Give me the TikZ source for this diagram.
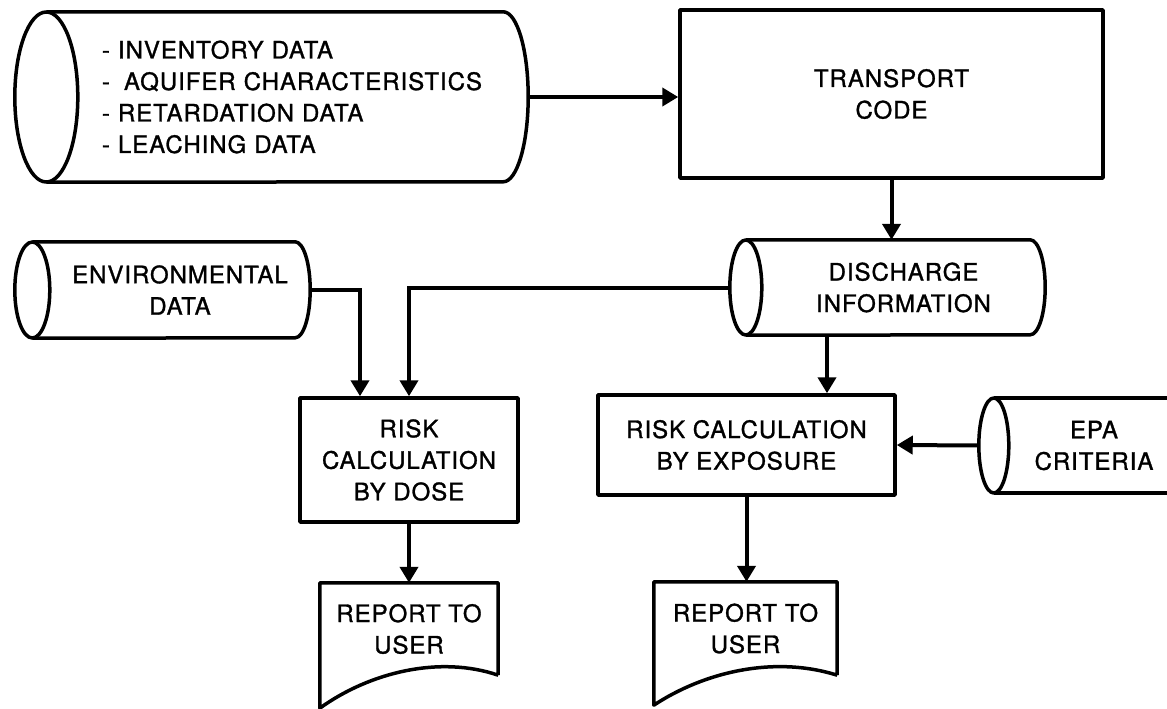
\documentclass[tikz,border=0pt]{standalone}
\usepackage{fontspec}
\setmainfont{TeX Gyre Heros}[LetterSpace=4, FakeBold=1.2]
\usetikzlibrary{arrows.meta,calc}
\tikzset{
  shp/.style={line width=3.5pt, line join=round},
  box/.style={draw, shp, rectangle, inner sep=0pt, align=center},
  body/.style={rectangle, inner sep=0pt, align=center},
  conn/.style={line width=4pt, -{Triangle[width=18pt,length=16pt]}},
}
% #1 node name, #2 left ellipse x radius, #3 right arc x radius, #4 half height
\newcommand{\cylout}[4]{%
  \draw[shp] ([xshift=-#2pt]#1.west) ellipse [x radius=#2pt, y radius=#4pt];
  \draw[shp] ([xshift=-#2pt]#1.north west) -- ([xshift=-#3pt]#1.north east)
    arc[start angle=90, end angle=-90, x radius=#3pt, y radius=#4pt]
    -- ([xshift=-#2pt]#1.south west);
}
\newcommand{\docout}[2]{% #1 node name, #2 drop of the left lower corner
  \draw[shp] (#1.south east) -- (#1.north east) -- (#1.north west)
    -- ($(#1.south west)+(0,#2)$)
    .. controls ($(#1.south west)+(50,-3)$) and ($(#1.south west)+(120,-20)$) .. (#1.south east);
}
\begin{document}
\begin{tikzpicture}[x=1pt, y=-1pt, font=\fontsize{24}{31.5}\selectfont]
\useasboundingbox[fill=white] (0,0) rectangle (1167,709);
\begin{scope}
\clip (0,0) rectangle (1167,709);

% nodes
\node[body, text width=450pt, align=left, minimum height=170pt] (in1) at (303,97)
  {\hspace*{24pt}- INVENTORY DATA\\
   \hspace*{24pt}- \hspace{6pt}AQUIFER CHARACTERISTICS\\
   \hspace*{24pt}- RETARDATION DATA\\
   \hspace*{24pt}- LEACHING DATA};
\node[box, minimum width=423pt, minimum height=168pt] (tr) at (891.5,94) {TRANSPORT\\CODE};
\node[body, minimum width=283pt, minimum height=95pt] (dis) at (903.5,287.5) {DISCHARGE\\INFORMATION};
\node[body, minimum width=260pt, minimum height=96pt] (env) at (180,290) {ENVIRONMENTAL\\DATA};
\node[box, minimum width=218pt, minimum height=124pt] (dose) at (409,460) {RISK\\CALCULATION\\BY DOSE};
\node[box, minimum width=297pt, minimum height=100pt] (ex) at (746.5,445) {RISK CALCULATION\\BY EXPOSURE};
\node[body, minimum width=170pt, minimum height=95pt] (epa) at (1094,445.5) {EPA\\CRITERIA};
\node[body, minimum width=178pt, minimum height=92pt] (r1) at (409,629) {REPORT TO\\USER};
\node[body, minimum width=183pt, minimum height=93pt] (r2) at (745.5,628.5) {REPORT TO\\USER};

% outlines
\cylout{in1}{31.5}{25}{85}
\cylout{dis}{16}{15}{47.5}
\cylout{env}{17.5}{15}{48}
\draw[shp] ([xshift=-15pt]epa.west) ellipse [x radius=15pt, y radius=47.5pt];
\draw[shp] ([xshift=-15pt]epa.north west) -- ++(220,0);
\draw[shp] ([xshift=-15pt]epa.south west) -- ++(220,0);
\docout{r1}{33}
\docout{r2}{30}

% connectors
\draw[conn] (in1.east) -- (in1.east -| tr.west);
\draw[conn] (tr.south) -- (tr.south |- dis.north);
\draw[conn] (env.east) -| ([xshift=-49pt]dose.north);
\draw[conn] ([xshift=-32pt]dis.west) -| (dose.north);
\draw[conn] ([xshift=-76.5pt]dis.south) -- ([xshift=-76.5pt]dis.south |- ex.north);
\draw[conn] ([xshift=-30pt]epa.west) -- (ex.east);
\draw[conn] (dose.south) -- (r1.north);
\draw[conn] (ex.south) -- (ex.south |- r2.north);
\end{scope}
\end{tikzpicture}
\end{document}
